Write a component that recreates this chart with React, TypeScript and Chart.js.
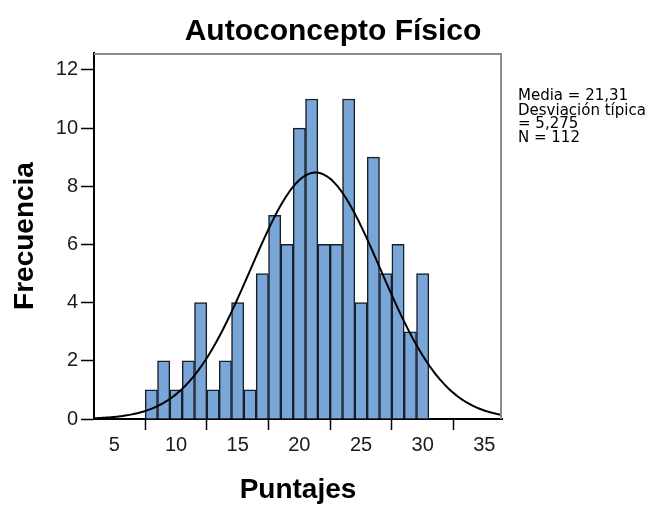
import React, { useEffect, useRef } from "react";
import { Chart, registerables } from "chart.js";

Chart.register(...registerables);

const TITLE = "Autoconcepto Físico";
const X_TITLE = "Puntajes";
const Y_TITLE = "Frecuencia";
const LEGEND_LINES = ["Media = 21,31", "Desviación típica", "= 5,275", "N = 112"];

const MEAN = 21.31;
const SD = 5.275;
const N = 112;
const BIN_WIDTH = 1;

const binCenters = [8, 9, 10, 11, 12, 13, 14, 15, 16, 17, 18, 19, 20, 21, 22, 23, 24, 25, 26, 27, 28, 29, 30];
const frequencies = [1, 2, 1, 2, 4, 1, 2, 4, 1, 5, 7, 6, 10, 11, 6, 6, 11, 4, 9, 5, 6, 3, 5];

const xTicks = [5, 10, 15, 20, 25, 30, 35];
const yTicks = [0, 2, 4, 6, 8, 10, 12];

const X_MIN = 3.35;
const X_MAX = 36.43;
const Y_MAX = 12.58;

const FONT = "'Liberation Sans', Arial, sans-serif";
const LEGEND_FONT = "'DejaVu Sans', Verdana, sans-serif";

function normalCurve() {
  const pts: { x: number; y: number }[] = [];
  const steps = 300;
  for (let i = 0; i <= steps; i++) {
    const x = X_MIN + ((X_MAX - X_MIN) * i) / steps;
    const z = (x - MEAN) / SD;
    const y = (N * BIN_WIDTH * Math.exp(-0.5 * z * z)) / (SD * Math.sqrt(2 * Math.PI));
    pts.push({ x, y });
  }
  return pts;
}

const textPlugin = {
  id: "textPlugin",
  afterDraw(chart: any) {
    const ctx = chart.ctx;
    const { left, right, top, bottom } = chart.chartArea;
    ctx.save();
    ctx.strokeStyle = "#8c8c8c";
    ctx.lineWidth = 2;
    ctx.beginPath();
    ctx.moveTo(left, top + 1);
    ctx.lineTo(right - 1, top + 1);
    ctx.lineTo(right - 1, bottom);
    ctx.stroke();

    ctx.fillStyle = "#000";
    ctx.font = `bold 30px ${FONT}`;
    ctx.textAlign = "center";
    ctx.textBaseline = "alphabetic";
    ctx.fillText(TITLE, 333, 40);

    ctx.font = `bold 28px ${FONT}`;
    ctx.fillText(X_TITLE, (left + right) / 2, 498);

    ctx.save();
    ctx.translate(33, (top + bottom) / 2);
    ctx.rotate(-Math.PI / 2);
    ctx.fillText(Y_TITLE, 0, 0);
    ctx.restore();

    ctx.font = `15px ${LEGEND_FONT}`;
    ctx.textAlign = "left";
    const baselines = [100, 115, 128, 142];
    LEGEND_LINES.forEach((t, i) => ctx.fillText(t, 518, baselines[i]));
    ctx.restore();
  },
};

export default function App() {
  const ref = useRef<HTMLCanvasElement | null>(null);
  useEffect(() => {
    if (!ref.current) return;
    const chart = new Chart(ref.current, {
      type: "bar",
      data: {
        datasets: [
          {
            type: "line",
            data: normalCurve(),
            borderColor: "#000",
            borderWidth: 2,
            pointRadius: 0,
            fill: false,
            tension: 0,
            order: 0,
          } as any,
          {
            type: "bar",
            data: binCenters.map((x, i) => ({ x, y: frequencies[i] })),
            backgroundColor: "#79a6d7",
            borderColor: "#16202b",
            borderWidth: 1.5,
            barPercentage: 1,
            categoryPercentage: 1,
            order: 1,
          } as any,
        ],
      },
      options: {
        animation: false,
        responsive: false,
        events: [],
        layout: { padding: { left: 0, top: 53, right: 155, bottom: 0 } },
        plugins: { legend: { display: false }, tooltip: { enabled: false }, title: { display: false } },
        scales: {
          x: {
            type: "linear",
            min: X_MIN,
            max: X_MAX,
            offset: false,
            afterBuildTicks: (s: any) => {
              s.ticks = xTicks.map((v) => ({ value: v }));
            },
            afterFit: (s: any) => {
              s.height = 87;
            },
            grid: { drawOnChartArea: false, drawTicks: true, tickLength: 11, tickColor: "#000", tickWidth: 1.5 },
            border: { display: true, color: "#000", width: 2 },
            ticks: { font: { family: FONT, size: 20 }, color: "#1a1a1a", padding: 3, maxRotation: 0, autoSkip: false },
          },
          y: {
            type: "linear",
            min: 0,
            max: Y_MAX,
            afterBuildTicks: (s: any) => {
              s.ticks = yTicks.map((v) => ({ value: v }));
            },
            afterFit: (s: any) => {
              s.width = 94;
            },
            grid: { drawOnChartArea: false, drawTicks: true, tickLength: 13, tickColor: "#000", tickWidth: 1.5 },
            border: { display: true, color: "#000", width: 2 },
            ticks: { font: { family: FONT, size: 20 }, color: "#1a1a1a", padding: 3, autoSkip: false },
          },
        },
      },
      plugins: [textPlugin],
    });
    return () => chart.destroy();
  }, []);
  return (
    <div style={{ position: "fixed", left: 0, top: 0, width: 657, height: 506, background: "#fff" }}>
      <canvas ref={ref} width={657} height={506} style={{ display: "block", width: 657, height: 506 }} />
    </div>
  );
}
